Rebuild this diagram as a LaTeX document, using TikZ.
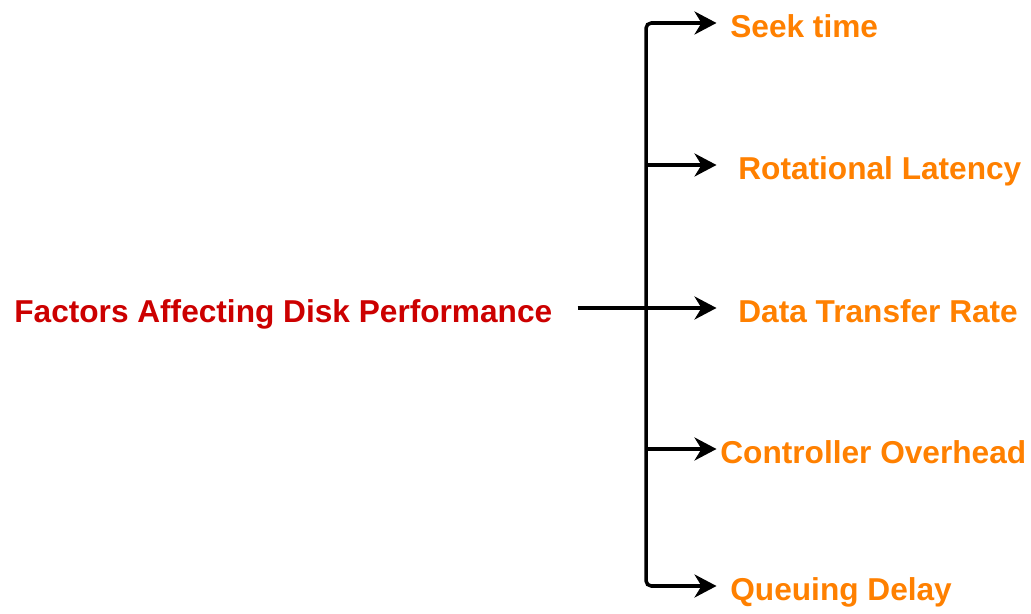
\documentclass[tikz,border=0pt]{standalone}
\usepackage{fontspec}
\setmainfont{Liberation Sans}
\usetikzlibrary{arrows.meta}
\usetikzlibrary{positioning}
\definecolor{factorred}{HTML}{CC0000}
\definecolor{factororange}{HTML}{FF8000}
\tikzset{
  label/.style={font=\fontsize{18}{21}\selectfont\bfseries, inner sep=0pt, anchor=west, text height=16pt, text depth=0pt},
  branch/.style={draw=black, line width=2pt, -{Stealth[length=0.44cm,width=0.46cm,inset=0.14cm]}}
}

\begin{document}
\begin{tikzpicture}
\useasboundingbox (0,0) rectangle (20.62,-12.28);
\coordinate (hub) at (12.92,-6.16);
\coordinate (tip) at (14.33,-6.16);

\node[label,text=factorred] (factors) at (0.28,-6.16) {Factors Affecting Disk Performance};
\node[label,text=factororange] (seek) at (14.6,-0.46) {Seek time};
\node[label,text=factororange] (rotational) at (14.76,-3.3) {Rotational Latency};
\node[label,text=factororange] (transfer) at (14.76,-6.16) {Data Transfer Rate};
\node[label,text=factororange] (controller) at (14.4,-8.98) {Controller Overhead};
\node[label,text=factororange] (queuing) at (14.6,-11.72) {Queuing Delay};

\draw[branch,rounded corners=3pt] (hub) |- (seek.west -| tip);
\draw[branch,rounded corners=3pt] (hub) |- (queuing.west -| tip);
\draw[branch] (rotational.west -| hub) -- (rotational.west -| tip);
\draw[branch,shorten <=0.5cm] (factors.east) -- (transfer.west -| tip);
\draw[branch] (controller.west -| hub) -- (controller.west -| tip);

\end{tikzpicture}
\end{document}
